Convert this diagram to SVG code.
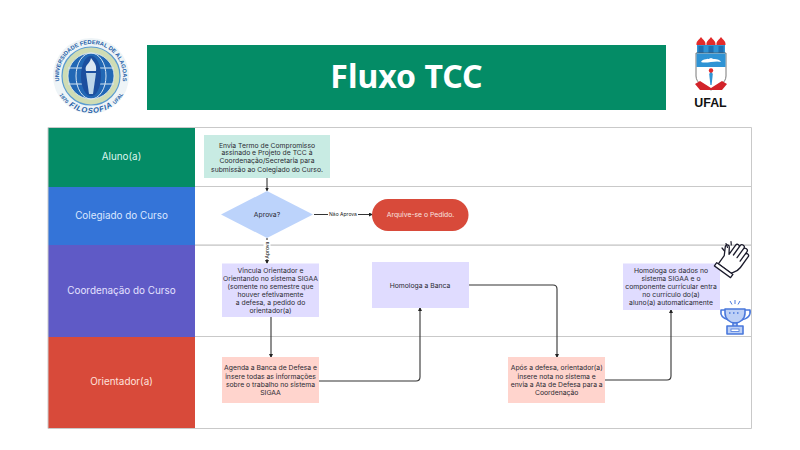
<svg xmlns="http://www.w3.org/2000/svg" width="800" height="450" viewBox="0 0 800 450">
<style>
.t{font-family:"Inter","Liberation Sans",sans-serif;font-size:6.8px;fill:#2b2b33;text-anchor:middle}
.lane{font-family:"Inter","Liberation Sans",sans-serif;font-size:9.9px;text-anchor:middle}
.c{fill:none;stroke:#333;stroke-width:1.1}
.g{stroke:#c9c9c9;stroke-width:1;fill:none}
.lbl{font-family:"Inter","Liberation Sans",sans-serif;font-size:5px;fill:#222;text-anchor:middle}
.ic{fill:#fff;stroke:#1b1b2b;stroke-width:1.3;stroke-linejoin:round;stroke-linecap:round}
.tr{fill:#bdd0f6;stroke:#4a78dc;stroke-width:1.6;stroke-linejoin:round}
.s{font-family:"Liberation Sans",sans-serif;font-weight:700;fill:#1f5fa8;text-anchor:middle}
</style>
<defs>
<marker id="a" markerWidth="4" markerHeight="4" refX="3" refY="2" orient="auto" markerUnits="userSpaceOnUse"><path d="M0 0L4 2L0 4Z" fill="#222"/></marker>
<path id="arcTop" d="M63.300 92A32 32 0 1 1 118.700 92"/>
<path id="arcBot" d="M54 76A37 37 0 0 0 128 76"/>
<path id="dome" d="M-4.500 8C-5 4 -2 3 0 0C2 3 5 4 4.500 8Z"/>
</defs>
<rect width="800" height="450" fill="#fff"/>

<g id="header"><rect x="147" y="45" width="519" height="65" fill="#048c66"/>
<text x="406.500" y="87.500" font-family="'Noto Sans','Open Sans',sans-serif" font-size="32" font-weight="700" fill="#fff" text-anchor="middle">Fluxo TCC</text></g>

<g id="logo-filosofia">
<circle cx="91" cy="76" r="38" fill="#eef4f7"/>
<circle cx="91" cy="76" r="29" fill="#cfdcb4" stroke="#5a9bd0" stroke-width="1.200"/>
<circle cx="91" cy="76" r="23" fill="#2268b5" stroke="#e4edf2" stroke-width=".8"/>
<ellipse cx="91" cy="76" rx="15" ry="23" fill="none" stroke="#d6e6f3" stroke-width="1"/>
<path d="M68 68H114M68 84H114" stroke="#d6e6f3" stroke-width="1"/>
<ellipse cx="91" cy="76" rx="10" ry="20" fill="#1b4f9f"/>
<path d="M86 73H96L93 94H89Z" fill="#bcd6ea"/>
<path d="M86 71C84 65 90 64 91 58C94 62 97 65 96 71Z" fill="#dbe7f2"/>
<text class="s" font-size="5.700"><textPath href="#arcTop" startOffset="50%">UNIVERSIDADE FEDERAL DE ALAGOAS</textPath></text>
<text class="s" font-size="7.500" font-style="italic" letter-spacing=".8"><textPath href="#arcBot" startOffset="50%">FILOSOFIA</textPath></text>
<text class="s" font-size="5.200"><textPath href="#arcBot" startOffset="22%">1970</textPath></text>
<text class="s" font-size="5.200"><textPath href="#arcBot" startOffset="78%">UFAL</textPath></text>
</g>

<g id="logo-ufal">
<path d="M697 45H725V53H697Z" fill="#2f93d4"/>
<path d="M698.500 46H703.500V53H698.500ZM708.500 46H713.500V53H708.500ZM718.500 46H723.500V53H718.500Z" fill="#1f6fb0"/>
<use href="#dome" x="701" y="37" fill="#e22b2b"/><use href="#dome" x="711" y="37" fill="#e22b2b"/><use href="#dome" x="721" y="37" fill="#e22b2b"/>
<path d="M696 53H726V76C726 83 718 87 711 90C704 87 696 83 696 76Z" fill="#fff" stroke="#555" stroke-width=".8"/>
<rect x="696.500" y="53.500" width="29" height="13.500" fill="#2f93d4"/>
<path d="M701 62C703 58 708 60 711 58C714 60 719 58 721 62C716 60 706 64 701 62Z" fill="#fff"/>
<path d="M711 71L712.800 74L711.600 85H710.400L709.200 74Z" fill="#2f93d4"/>
<circle cx="711" cy="70.500" r="2.200" fill="#e22b2b"/>
<path d="M695 84L700 81L711 88L722 81L727 84L722 90H700Z" fill="#d2232a"/>
<text x="710.500" y="106.500" font-family="'Liberation Sans',sans-serif" font-size="12.400" font-weight="700" fill="#111" text-anchor="middle">UFAL</text>
</g>

<g id="lanes">
<rect x="48" y="128" width="147" height="59" fill="#048c66"/>
<rect x="48" y="187" width="147" height="58" fill="#3474d8"/>
<rect x="48" y="245" width="147" height="92" fill="#5f5ac6"/>
<rect x="48" y="337" width="147" height="92" fill="#d84a3a"/>
<path class="g" d="M195 127.500H751.500V428.500H48V127.500H195M195 186.500H751.500M195 245.500H751.500M195 336.500H751.500"/>
<path d="M195 245H751" stroke="#d4d4d4" stroke-width="1.400"/>
<text class="lane" x="121.500" y="160" fill="#dff6ee">Aluno(a)</text>
<text class="lane" x="121.500" y="219" fill="#dbe7ff">Colegiado do Curso</text>
<text class="lane" x="121.500" y="294" fill="#e4e1ff">Coordenação do Curso</text>
<text class="lane" x="121.500" y="385" fill="#ffe1dc">Orientador(a)</text>
</g>

<g id="connectors">
<path class="c" d="M267 178V190.500" marker-end="url(#a)"/>
<path class="c" d="M314 214.500H372" marker-end="url(#a)"/>
<path class="c" d="M267 238V263" marker-end="url(#a)"/>
<path class="c" d="M271 317V357" marker-end="url(#a)"/>
<path class="c" d="M319 381H416Q420 381 420 377V308" marker-end="url(#a)"/>
<path class="c" d="M469 285H553Q557 285 557 289V357" marker-end="url(#a)"/>
<path class="c" d="M605 380H667Q671 380 671 376V310" marker-end="url(#a)"/>
<rect x="328" y="210" width="30" height="9" fill="#fff"/>
<text class="lbl" x="343" y="216.200">Não Aprova</text>
<rect x="263.500" y="240" width="7" height="19" fill="#fff"/>
<text class="lbl" transform="translate(268.800 250) rotate(-90)">Aprova</text>
</g>

<g id="n1"><rect x="204" y="135" width="126" height="43" fill="#c8ebe3"/>
<text class="t" x="267" y="147.500">Envia Termo de Compromisso</text><text class="t" x="267" y="155.300">assinado e Projeto de TCC à</text><text class="t" x="267" y="163.300">Coordenação/Secretaria para</text><text class="t" x="267" y="171.800">submissão ao Colegiado do Curso.</text></g>
<g id="n2"><path d="M221 214.500L267 191L313 214.500L267 238Z" fill="#bcd3fb"/><text class="t" x="267" y="217">Aprova?</text></g>
<g id="n3"><rect x="372" y="199" width="96.500" height="32" rx="16" fill="#d84a3a"/><text class="t" x="420.500" y="217.300" style="fill:#f8e4e0">Arquive-se o Pedido.</text></g>
<g id="n4"><rect x="222" y="263.500" width="97" height="53.500" fill="#e0dcff"/>
<text class="t" x="270.500" y="272.500">Vincula Orientador e</text><text class="t" x="270.500" y="280.800">Orientando no sistema SIGAA</text><text class="t" x="270.500" y="288.800">(somente no semestre que</text><text class="t" x="270.500" y="296.500">houver efetivamente</text><text class="t" x="270.500" y="304.500">a defesa, a pedido do</text><text class="t" x="270.500" y="312.800">orientador(a)</text></g>
<g id="n5"><rect x="372" y="262" width="97" height="46" fill="#e0dcff"/><text class="t" x="420" y="287.500">Homologa a Banca</text></g>
<g id="n6"><rect x="623" y="263.500" width="97" height="46.500" fill="#e0dcff"/>
<text class="t" x="671" y="272.500">Homologa os dados no</text><text class="t" x="671" y="280.800">sistema SIGAA e o</text><text class="t" x="671" y="289">componente curricular entra</text><text class="t" x="671" y="297">no currículo do(a)</text><text class="t" x="671" y="305">aluno(a) automaticamente</text></g>
<g id="n7"><rect x="222" y="357" width="97" height="46" fill="#ffd4cd"/>
<text class="t" x="270.500" y="370.200">Agenda a Banca de Defesa e</text><text class="t" x="270.500" y="378.500">insere todas as informações</text><text class="t" x="270.500" y="386.500">sobre o trabalho no sistema</text><text class="t" x="270.500" y="394.500">SIGAA</text></g>
<g id="n8"><rect x="508" y="357" width="97" height="46" fill="#ffd4cd"/>
<text class="t" x="556.700" y="370.200">Após a defesa, orientador(a)</text><text class="t" x="556.700" y="378.500">insere nota no sistema e</text><text class="t" x="556.700" y="386.500">envia a Ata de Defesa para a</text><text class="t" x="556.700" y="394.500">Coordenação</text></g>

<g id="icon-hands"><g transform="translate(-1.500 0) rotate(36 735 260)">
<path class="ic" d="M725 272V262L720.500 254C719.500 251.500 722.500 250 724 252L728 258V247C728 244 732 244 732 247V256V244.500C732 241.500 736.500 241.500 736.500 244.500V256V245.500C736.500 242.500 741 242.500 741 245.500V257V249C741 246 745 246 745 249V262C745 267 743 269 741 272Z"/>
<path class="ic" d="M723 272H743V276H723Z"/>
</g>
<path d="M722 248L724.500 251M726 243.500L727.500 247.500M731 241.500L731.300 245" stroke="#1b1b2b" stroke-width="1.200" stroke-linecap="round" fill="none"/></g>
<g id="icon-trophy">
<path class="tr" style="fill:none" d="M726 310H721C720 316 724 319 729 320M744 310H750C751 316 747 319 741 320"/>
<path class="tr" d="M725 309H745V313C745 319 740 323 735 323C730 323 725 319 725 313Z"/>
<path d="M729 313H741" stroke="#4a78dc" stroke-width="1.300" stroke-dasharray="1.500 2.500"/>
<path class="tr" d="M733 323H737V326H733ZM727 326H743V334H727Z"/>
<rect x="731" y="329" width="8" height="2.500" fill="#fff" stroke="#4a78dc" stroke-width=".8"/>
<path d="M735 300V304M730 301L732 304.500M740 301L738 304.500" stroke="#4a78dc" stroke-width="1"/></g>
</svg>
